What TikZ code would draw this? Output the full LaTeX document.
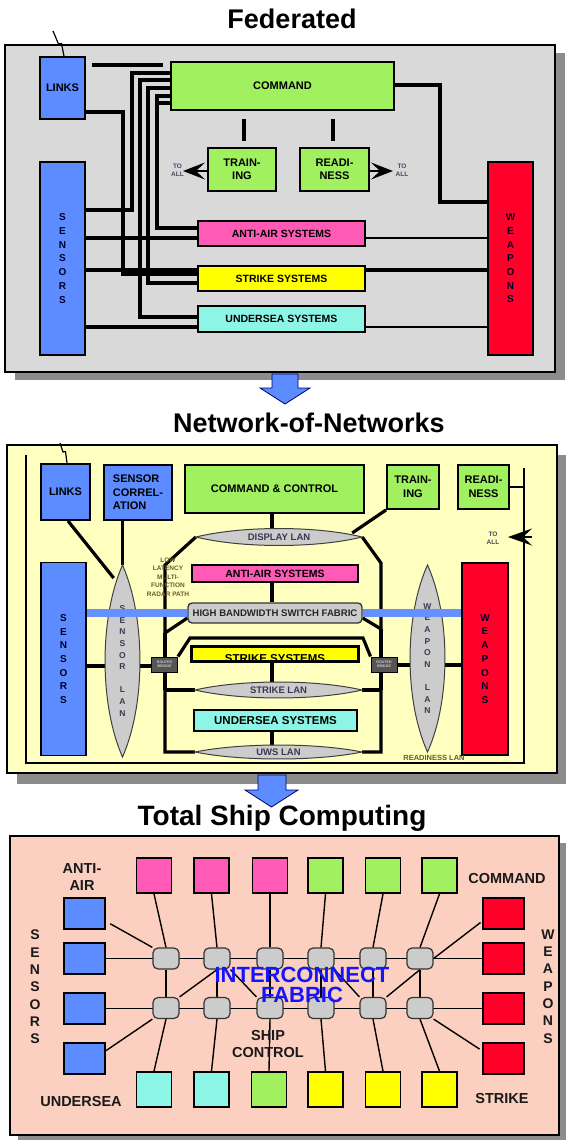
\documentclass[tikz,border=0pt]{standalone}
\usepackage{fontspec}
\setmainfont{Liberation Sans}
\usetikzlibrary{arrows.meta,calc,shapes.geometric}
\pgfdeclarelayer{panels}
\pgfdeclarelayer{wires}
\pgfsetlayers{panels,wires,main}

\definecolor{boxblue}{RGB}{92,140,255}
\definecolor{boxgreen}{RGB}{160,240,96}
\definecolor{boxred}{RGB}{255,0,42}
\definecolor{boxpink}{RGB}{255,90,182}
\definecolor{boxyellow}{RGB}{255,255,0}
\definecolor{boxcyan}{RGB}{140,245,230}
\definecolor{fedgray}{RGB}{217,217,217}
\definecolor{netyellow}{RGB}{255,255,192}
\definecolor{tscsalmon}{RGB}{252,208,192}
\definecolor{langray}{RGB}{204,204,204}
\definecolor{dropshadow}{RGB}{140,140,140}
\definecolor{notetext}{RGB}{70,70,100}
\definecolor{olivetext}{RGB}{105,90,45}
\definecolor{lantext}{RGB}{60,55,80}
\definecolor{fabricbar}{RGB}{100,145,255}
\definecolor{fabrictext}{RGB}{20,20,255}
\definecolor{routerfill}{RGB}{85,85,85}

% lens-shaped LAN symbols: name, cx, cy, half width, half height, label
\newcommand\hlens[6]{%
  \filldraw[lensline] ({#2-#4},#3) .. controls ({#2-0.45*#4},{#3-1.33*#5}) and ({#2+0.45*#4},{#3-1.33*#5}) .. ({#2+#4},#3)
     .. controls ({#2+0.45*#4},{#3+1.33*#5}) and ({#2-0.45*#4},{#3+1.33*#5}) .. cycle;
  \node[lanlabel,minimum width={2*#4pt},minimum height={2*#5pt}] (#1) at (#2,#3) {#6};}
\newcommand\vlens[6]{%
  \filldraw[lensline] (#2,{#3-#5}) .. controls ({#2+1.33*#4},{#3-0.45*#5}) and ({#2+1.33*#4},{#3+0.45*#5}) .. (#2,{#3+#5})
     .. controls ({#2-1.33*#4},{#3+0.45*#5}) and ({#2-1.33*#4},{#3-0.45*#5}) .. cycle;
  \node[vlanlabel,minimum width={2*#4pt},minimum height={2*#5pt}] (#1) at (#2,#3) {#6};}

\tikzset{
  heading/.style={font=\bfseries\fontsize{27}{30}\selectfont,anchor=base,inner sep=0pt},
  panel/.style={draw=black,line width=2pt},
  wh/.style 2 args={minimum width=#1pt,minimum height=#2pt},
  blk/.style={draw=black,line width=1.8pt,inner sep=0pt,align=center,
    font=\bfseries\fontsize{11}{13.5}\selectfont},
  letters/.style={font=\bfseries\fontsize{10}{13.7}\selectfont,text=black!85!blue},
  wire/.style={line width=3.2pt},
  rdl/.style={line width=1.8pt},
  thinwire/.style={line width=1.4pt},
  toall/.style={line width=2pt,-{Stealth[length=22pt,width=17pt,inset=9pt]}},
  note/.style={align=center,inner sep=0pt,text=notetext,font=\bfseries\fontsize{6.5}{8}\selectfont},
  olivenote/.style={align=center,inner sep=0pt,text=olivetext,font=\bfseries\fontsize{6.5}{8.5}\selectfont},
  lensline/.style={fill=langray,draw=black!75,line width=1pt},
  lanlabel/.style={ellipse,inner sep=0pt,align=center,text=lantext,font=\bfseries\fontsize{9.5}{11}\selectfont},
  vlanlabel/.style={ellipse,inner sep=0pt,align=center,text=lantext,font=\bfseries\fontsize{8.5}{11.6}\selectfont},
  router/.style={draw=black,line width=1pt,fill=routerfill,inner sep=0pt,align=center,
    text=white!80!black,font=\bfseries\fontsize{3.6}{4.3}\selectfont,wh={26}{15}},
  sq/.style={draw=black,line width=1.8pt,inner sep=0pt,wh={35}{35}},
  sqs/.style={draw=black,line width=1.8pt,inner sep=0pt,wh={41}{31}},
  switch/.style={draw=black!80,line width=1.2pt,fill=langray,rounded corners=5pt,inner sep=0pt,wh={26}{21}},
  plabel/.style={align=center,inner sep=0pt,font=\bfseries\fontsize{14.5}{16.5}\selectfont,text=black!90},
  blockarrow/.style={fill=boxblue,draw=blue!40!black,line width=0.8pt},
}

\begin{document}
\begin{tikzpicture}[x=1pt,y=-1pt]
\useasboundingbox (0,0) rectangle (565,1140);

% ================= Federated =================
\node[heading] (ttlFed) at (292,29) {Federated};
\begin{pgfonlayer}{panels}
  \fill[dropshadow] (15,53) rectangle (565,380);
  \filldraw[panel,fill=fedgray] (5,45) rectangle (555,372);
\end{pgfonlayer}

\node[blk,fill=boxblue,wh={45}{62}] (links) at (62.5,88) {LINKS};
\node[blk,fill=boxgreen,wh={223}{48}] (command) at (282.5,86) {COMMAND};
\node[blk,fill=boxgreen,wh={68}{43}] (training) at (242,169.5) {TRAIN-\\ING};
\node[blk,fill=boxgreen,wh={69}{43}] (readiness) at (334.5,169.5) {READI-\\NESS};
\node[blk,fill=boxblue,wh={45}{193},letters] (sensors) at (62.5,258.5) {S\\E\\N\\S\\O\\R\\S};
\node[blk,fill=boxred,wh={45}{193},letters] (weapons) at (510.5,258.5) {W\\E\\A\\P\\O\\N\\S};
\node[blk,fill=boxpink,wh={167}{25},font=\bfseries\fontsize{10.5}{12}\selectfont] (antiair) at (281.5,233.5) {ANTI-AIR SYSTEMS};
\node[blk,fill=boxyellow,wh={167}{25},font=\bfseries\fontsize{10.5}{12}\selectfont] (strike) at (281.5,278.5) {STRIKE SYSTEMS};
\node[blk,fill=boxcyan,wh={167}{26},font=\bfseries\fontsize{10.5}{12}\selectfont] (undersea) at (281.5,319) {UNDERSEA SYSTEMS};

\node[note] (toallA) at (177.5,170) {TO\\ALL};
\node[note] (toallB) at (402,170) {TO\\ALL};
\coordinate (toallAtip) at (183,171);
\coordinate (toallBtip) at (393,171);
\coordinate (linkbarA) at (92,65);
\coordinate (linkbarB) at (163,65);

\begin{pgfonlayer}{wires}
\begin{scope}[wire]
  \draw (links.east |- 0,112) -| (123,274) -- (strike.west |- 0,274);
  \draw (command.west |- 0,73) -| (132,210) -- (sensors.east |- 0,210);
  \draw (command.west |- 0,80) -| (140,317) -- (undersea.west |- 0,317);
  \draw (command.west |- 0,88) -| (148,283) -- (strike.west |- 0,283);
  \draw (command.west |- 0,96) -| (157,228) -- (antiair.west |- 0,228);
  \draw (command.west |- 0,103) -- (157,103);
  \draw (sensors.east |- 0,238) -- (antiair.west |- 0,238);
  \draw (sensors.east |- 0,270) -- (strike.west |- 0,270);
  \draw (sensors.east |- 0,327) -- (undersea.west |- 0,327);
  \draw[line width=2.6pt] (antiair.east |- 0,238) -- (weapons.west |- 0,238);
  \draw[line width=4pt] (strike.east |- 0,270) -- (weapons.west |- 0,270);
  \draw[line width=2.6pt] (undersea.east |- 0,327) -- (weapons.west |- 0,327);
  \draw[line width=4pt] (command.east |- 0,85) -| (440,202) -- (weapons.west |- 0,202);
  \draw[line width=4pt] (linkbarA) -- (linkbarB);
  \draw[line width=4pt,shorten <=8pt,shorten >=6pt] (command.south -| 244,0) -- (training.north -| 244,0);
  \draw[line width=4pt,shorten <=8pt,shorten >=6pt] (command.south -| 333,0) -- (readiness.north -| 333,0);
\end{scope}
\draw[line width=1.2pt] (53,31) -- (58.5,44) -- (61.5,43.5) -- (links.north -| 64,0);
\draw[toall] (training.west |- toallAtip) -- (toallAtip);
\draw[toall] (readiness.east |- toallBtip) -- (toallBtip);
\end{pgfonlayer}

\filldraw[blockarrow] (272,374) -- (298,374) -- (298,388) -- (310,388) -- (285,404) -- (260,388) -- (272,388) -- cycle;

% ================= Network-of-Networks =================
\node[heading] (ttlNet) at (309,432) {Network-of-Networks};
\begin{pgfonlayer}{panels}
  \fill[dropshadow] (17,455) rectangle (567,784);
  \filldraw[panel,fill=netyellow] (7,445) rectangle (557,773);
\end{pgfonlayer}

\node[blk,fill=boxblue,wh={49}{56}] (links2) at (65.5,492) {LINKS};
\node[blk,fill=boxblue,wh={68}{55},align=left] (senscorr) at (138,492.5) {SENSOR\\CORREL-\\ATION};
\node[blk,fill=boxgreen,wh={179}{48}] (cc) at (274.5,489) {COMMAND \& CONTROL};
\node[blk,fill=boxgreen,wh={52}{44}] (training2) at (413,487) {TRAIN-\\ING};
\node[blk,fill=boxgreen,wh={51}{44}] (readiness2) at (483.5,487) {READI-\\NESS};
\node[blk,fill=boxblue,wh={45}{193},letters] (sensors2) at (63.5,659) {S\\E\\N\\S\\O\\R\\S};
\node[blk,fill=boxred,wh={46}{192},letters] (weapons2) at (485,659) {W\\E\\A\\P\\O\\N\\S};
\node[blk,fill=boxpink,wh={166}{17},font=\bfseries\fontsize{10.5}{12}\selectfont] (antiair2) at (275,573.5) {ANTI-AIR SYSTEMS};
\node[blk,fill=langray,draw=black!80,line width=1.3pt,rounded corners=4pt,wh={174}{20},
      font=\bfseries\fontsize{9.6}{11}\selectfont,text=black!85] (hbsf) at (275,613) {HIGH BANDWIDTH SWITCH FABRIC};
\node[blk,fill=boxyellow,wh={166}{14}] (strike2) at (275,654) {};
% the strike label sits low in its bar and is cut off by the bar's lower edge
\begin{scope}
  \clip (strike2.north west) rectangle (strike2.south east);
  \node[inner sep=0pt,font=\bfseries\fontsize{11.5}{12}\selectfont] (strike2txt) at (275,659) {STRIKE SYSTEMS};
\end{scope}
\draw[line width=1.8pt] (strike2.north west) rectangle (strike2.south east);
\node[blk,fill=boxcyan,wh={163}{21},font=\bfseries\fontsize{11.5}{13}\selectfont] (undersea2) at (275.5,720.5) {UNDERSEA SYSTEMS};

\hlens{displaylan}{279}{537}{83}{8.5}{DISPLAY LAN}
\hlens{strikelan}{278.5}{690}{83.5}{8}{STRIKE LAN}
\hlens{uwslan}{278.5}{752}{83.5}{7}{UWS LAN}
\vlens{sensorlan}{122.5}{661}{17.5}{96}{S\\E\\N\\S\\O\\R\\~\\L\\A\\N}
\vlens{weaponlan}{427.5}{658.5}{17.5}{93.5}{W\\E\\A\\P\\O\\N\\~\\L\\A\\N}

\draw[line width=8pt,fabricbar] (sensors2.east |- 0,613) -- (hbsf.west);
\draw[line width=8pt,fabricbar] (hbsf.east) -- (weapons2.west |- 0,613);

\node[router] (routerL) at (164.5,664.5) {ROUTER\\BRIDGE};
\node[router] (routerR) at (384,664.5) {ROUTER\\BRIDGE};

\node[olivenote] (llnote) at (168,577) {LOW\\LATENCY\\MULTI-\\FUNCTION\\RADAR PATH};
\node[olivenote,font=\bfseries\fontsize{7.5}{8.5}\selectfont] (rdlan) at (434,758) {READINESS LAN};
\node[note] (toallC) at (493,538) {TO\\ALL};

\coordinate (bbLtop) at (165,565);
\coordinate (bbLbot) at (165,752);
\coordinate (bbLh) at (165,633);
\coordinate (bbRtop) at (381,563);
\coordinate (bbRbot) at (381,752);
\coordinate (bbRh) at (381,629);
\coordinate (rbA) at (190,638);
\coordinate (rbB) at (363,638);
\coordinate (rdA) at (26,455);
\coordinate (rdB) at (26,763);
\coordinate (rdC) at (524,763);
\coordinate (rdD) at (524,468);
\coordinate (toallTail) at (532,537);
\coordinate (toallTip) at (508,537);

\begin{pgfonlayer}{wires}
\begin{scope}[wire]
  \draw (cc.south -| 272,0) -- (displaylan.north -| 272,0);
  \draw (links2.south -| 68,0) -- ($(sensorlan.center)+(-8.8,-83)$);
  \draw (senscorr.south -| sensorlan.north) -- (sensorlan.north);
  \draw (training2.south west) -- ($(displaylan.east)+(-10,-4)$);
  \draw (displaylan.west) -- (bbLtop) -- (bbLbot) -- (uwslan.west);
  \draw[line width=4.5pt] (bbLh) -- (bbLh |- strikelan.west);
  \draw (strikelan.west -| bbLtop) -- (strikelan.west);
  \draw (bbLh) -- ($(hbsf.west)+(0,5)$);
  \draw (routerL.north east) -- (rbA) -- (rbB) -- (routerR.north west);
  \draw (displaylan.east) -- (bbRtop) -- (bbRbot) -- (uwslan.east);
  \draw[line width=4.5pt] (bbRh) -- (bbRh |- strikelan.east);
  \draw (strikelan.east) -- (strikelan.east -| bbRtop);
  \draw ($(hbsf.east)+(0,5)$) -- (bbRh);
  \draw (antiair2.south -| 272,0) -- (hbsf.north -| 272,0);
  \draw (strike2.south -| 272,0) -- (strikelan.north -| 272,0);
  \draw (undersea2.south -| 272,0) -- (uwslan.north -| 272,0);
  \draw (sensors2.east |- 0,666) -- (sensorlan.west |- 0,666);
  \draw (sensorlan.east |- 0,666) -- (routerL.west |- 0,666);
  \draw (routerR.east |- 0,665) -- (weaponlan.west |- 0,665);
  \draw (weaponlan.east |- 0,665) -- (weapons2.west |- 0,665);
\end{scope}
\draw[rdl] (rdA) -- (rdB) -- (rdC) -- (rdD);
\draw[rdl] (readiness2.east) -- (readiness2.east -| rdD);
\draw[line width=1.5pt,-{Stealth[length=24pt,width=17pt,inset=9pt]}] (toallTail) -- (toallTip);
\draw[line width=1.2pt] (60,443) -- (63,452) -- (65.5,451.5) -- (links2.north -| 67,0);
\end{pgfonlayer}

\filldraw[blockarrow] (258,775) -- (286,775) -- (286,790) -- (298,790) -- (271.5,807) -- (245,790) -- (258,790) -- cycle;

% ================= Total Ship Computing =================
\node[heading,font=\bfseries\fontsize{28}{30}\selectfont] (ttlTsc) at (282,825) {Total Ship Computing};
\begin{pgfonlayer}{panels}
  \fill[dropshadow] (18,843) rectangle (567,1141);
  \filldraw[panel,fill=tscsalmon] (10,836) rectangle (559,1135);
\end{pgfonlayer}

\node[sq,fill=boxpink] (top1) at (154,875.5) {};
\node[sq,fill=boxpink] (top2) at (211.5,875.5) {};
\node[sq,fill=boxpink] (top3) at (270,875.5) {};
\node[sq,fill=boxgreen] (top4) at (325.5,875.5) {};
\node[sq,fill=boxgreen] (top5) at (383,875.5) {};
\node[sq,fill=boxgreen] (top6) at (439.5,875.5) {};
\node[sq,fill=boxcyan] (bot1) at (154,1089.5) {};
\node[sq,fill=boxcyan] (bot2) at (211.5,1089.5) {};
\node[sq,fill=boxgreen] (bot3) at (269,1089.5) {};
\node[sq,fill=boxyellow] (bot4) at (325.5,1089.5) {};
\node[sq,fill=boxyellow] (bot5) at (383,1089.5) {};
\node[sq,fill=boxyellow] (bot6) at (439.5,1089.5) {};
\foreach \n/\y in {1/913.5,2/958.5,3/1008.5,4/1058.5} {
  \node[sqs,fill=boxblue] (blu\n) at (84.5,\y) {};
  \node[sqs,fill=boxred] (red\n) at (503.5,\y) {};
}
\foreach \n/\x in {1/166,2/217,3/270,4/321,5/373,6/420} {
  \node[switch] (sa\n) at (\x,958.5) {};
  \node[switch] (sb\n) at (\x,1008) {};
}

\begin{pgfonlayer}{wires}
\begin{scope}[thinwire]
  \draw (blu2.east) -- (red2.west);
  \draw (blu3.east) -- (red3.west);
  \foreach \n in {1,...,6} {
    \draw (sa\n.south) -- (sb\n.north);
    \draw (top\n.south) -- (sa\n.north);
    \draw (bot\n.north) -- (sb\n.south);
  }
  \draw (sa2.south) -- (sb1.north east);
  \draw (sa2.south east) -- (sb3.north west);
  \draw (sa4.south east) -- (sb5.north west);
  \draw (sa6.south) -- (sb5.north east);
  \draw[shorten <=5pt] (blu1.-20) -- (sa1.north west);
  \draw[shorten <=2pt] (red1.200) -- (sa6.east);
  \draw (blu4.20) -- (sb1.south west);
  \draw[shorten <=3pt] (red4.160) -- (sb6.south east);
\end{scope}
\end{pgfonlayer}

\node[plabel] (lblAA) at (82,877) {ANTI-\\AIR};
\node[plabel] (lblCmd) at (507,878) {COMMAND};
\node[plabel] (lblUS) at (81,1101) {UNDERSEA};
\node[plabel] (lblStr) at (502,1098) {STRIKE};
\node[plabel] (lblShip) at (268,1044) {SHIP\\CONTROL};
\node[plabel,font=\bfseries\fontsize{14}{17.3}\selectfont] (lblSen) at (35,987) {S\\E\\N\\S\\O\\R\\S};
\node[plabel,font=\bfseries\fontsize{14}{17.3}\selectfont] (lblWpn) at (548,986.5) {W\\E\\A\\P\\O\\N\\S};
\node[align=center,inner sep=0pt,text=fabrictext,font=\bfseries\fontsize{22}{20}\selectfont] (lblFab) at (302,985) {INTERCONNECT\\FABRIC};

\end{tikzpicture}
\end{document}
